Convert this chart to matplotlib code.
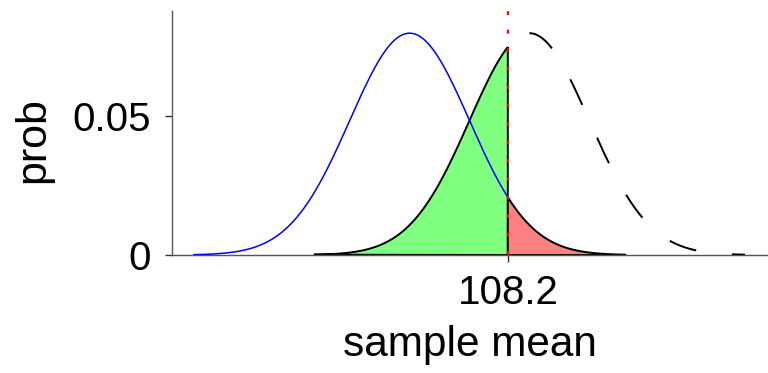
import numpy as np
import matplotlib
matplotlib.use("Agg")
import matplotlib.pyplot as plt

# parameters
mu_null = 100.0      # blue (null) distribution mean
mu_alt = 110.0       # black (alternative) distribution mean
sd = 5.0             # standard deviation of the sample mean
crit = 108.2         # critical value
half_range = 18.0    # curves drawn over mean +/- this
xtick_labels = ["108.2"]
ytick_vals = [0, 0.05]
ytick_labels = ["0", "0.05"]

def pdf(x, m, s):
    return np.exp(-0.5 * ((x - m) / s) ** 2) / (s * np.sqrt(2 * np.pi))

plt.rcParams['font.family'] = ['Liberation Sans', 'DejaVu Sans']

fig = plt.figure(figsize=(7.68, 3.73), dpi=100)
ax = fig.add_axes([172/768, 1-255/373, (767-172)/768, (255-11)/373])

x0 = np.linspace(mu_null - half_range, mu_null + half_range, 600)
x1 = np.linspace(mu_alt, mu_alt + half_range, 400)
y0 = pdf(x0, mu_null, sd)
y1 = pdf(x1, mu_alt, sd)

# green region: alternative below critical value
xg = np.linspace(mu_alt - half_range, crit, 400)
yg = pdf(xg, mu_alt, sd)
ax.fill(np.r_[xg, crit], np.r_[yg, 0], facecolor='#80FF80', edgecolor='black', lw=1.4, zorder=2)
# red region: null above critical value
xr = np.linspace(crit, mu_null + half_range, 400)
yr = pdf(xr, mu_null, sd)
ax.fill(np.r_[crit, xr, xr[-1]], np.r_[0, yr, 0], facecolor='#FF8080', edgecolor='black', lw=1.4, zorder=2)

# blue null curve up to the critical value
m = x0 <= crit
ax.plot(x0[m], y0[m], color='blue', lw=1.1, zorder=3)
# dashed alternative curve beyond its peak
ax.plot(x1, y1, color='black', lw=1.4, dashes=(14.5, 18.5), zorder=3)
# critical line
ax.axvline(crit, color='red', lw=1.6, dashes=(1.8, 6.5), zorder=4)

lo = mu_null - half_range; hi = mu_alt + half_range
pad = 0.04 * (hi - lo)
ax.set_xlim(lo - pad, hi + pad)
ax.set_ylim(0, 1.1 * pdf(0, 0, sd))

for s in ['top', 'right']:
    ax.spines[s].set_visible(False)
for s in ['left', 'bottom']:
    ax.spines[s].set_color('#555555')
    ax.spines[s].set_linewidth(1.0)

ax.set_xticks([crit])
ax.set_xticklabels(xtick_labels)
ax.set_yticks(ytick_vals)
ax.set_yticklabels(ytick_labels)
ax.tick_params(axis='both', length=5, width=1, color='#333333', labelsize=29)
ax.tick_params(axis='y', pad=10)
ax.tick_params(axis='x', pad=9)
ax.set_xlabel('sample mean', fontsize=30.5, labelpad=9)
ax.set_ylabel('prob', fontsize=31)
ax.yaxis.set_label_coords(-0.2, 0.471)

fig.savefig('out.png', dpi=100)
